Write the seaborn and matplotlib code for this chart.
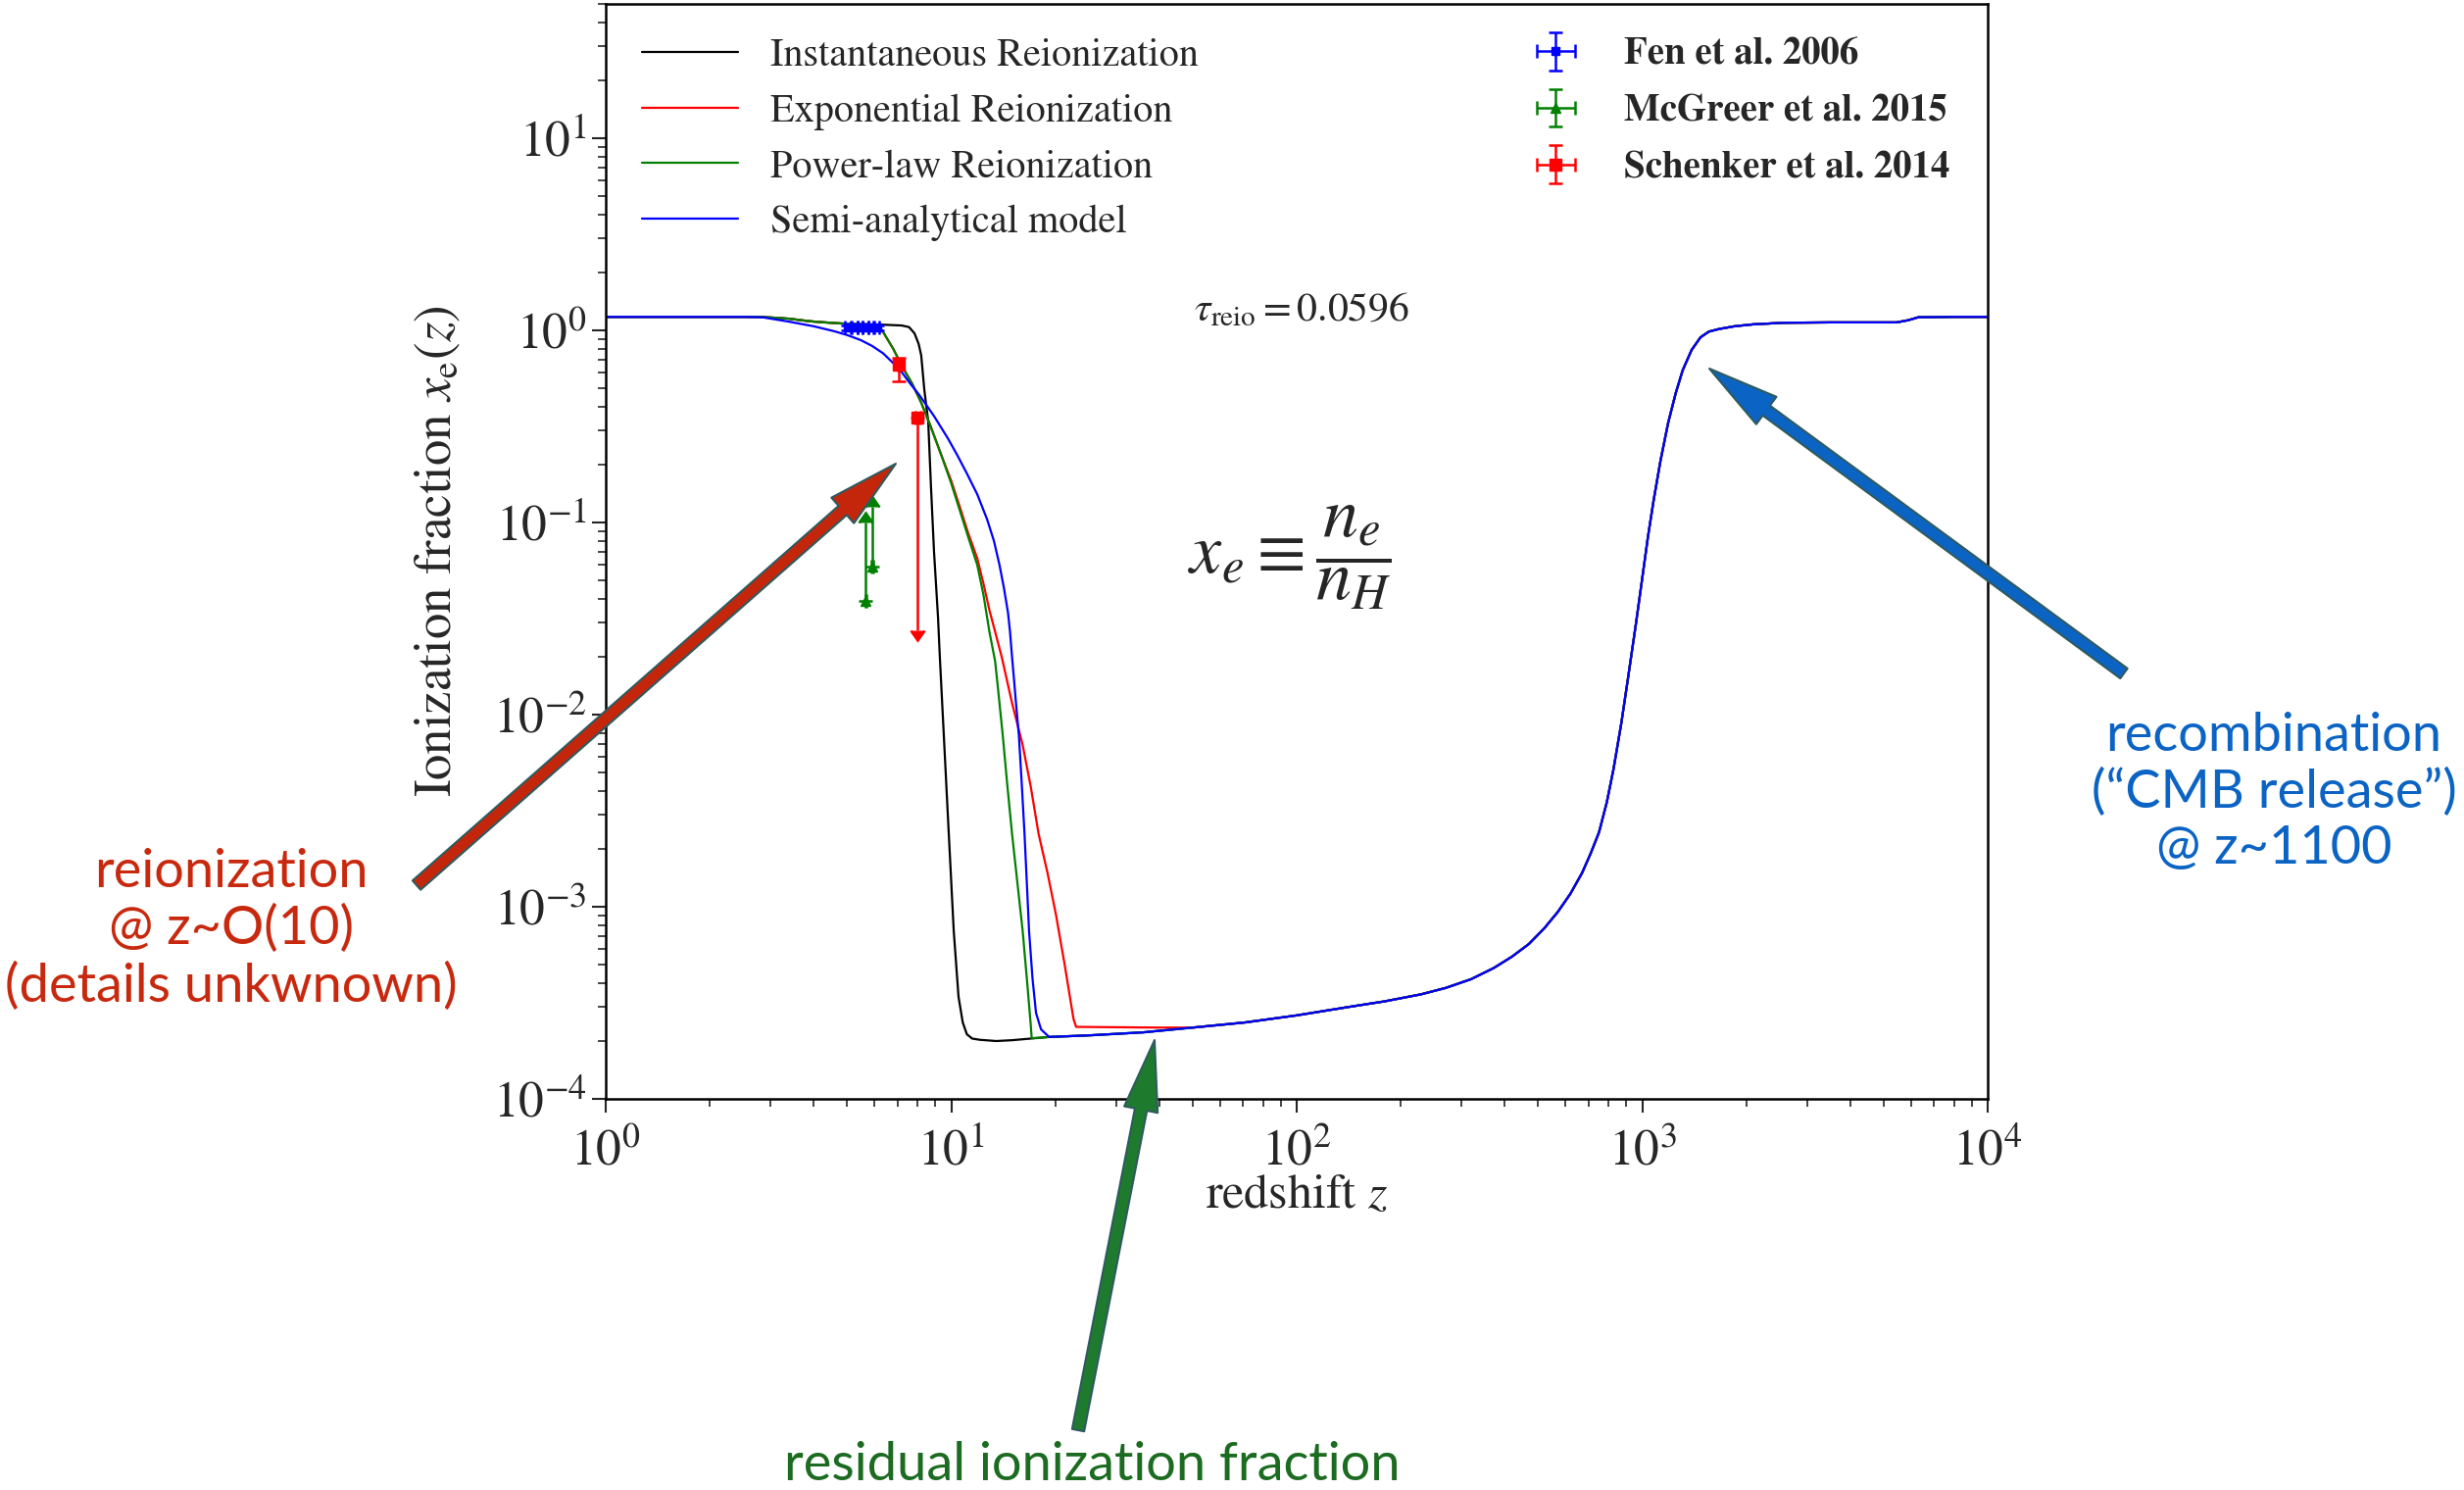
import numpy as np
import pandas as pd
import matplotlib
matplotlib.use("Agg")
import matplotlib.pyplot as plt
import seaborn as sns
from matplotlib.lines import Line2D
from matplotlib.patches import FancyArrowPatch
from matplotlib.transforms import IdentityTransform

# ---------------- data ----------------
# shared residual + recombination tail (all models)
z_residual = [19.2, 25, 36, 50, 71, 100, 140, 180, 229, 270, 320, 372, 420, 470,
              520, 570, 620, 670, 710, 750, 790, 826, 870, 910, 960, 1003, 1040,
              1079, 1130, 1189, 1250, 1310, 1390, 1475, 1560, 1668, 1850, 2100,
              2570, 3500, 5450, 5900, 6300, 8000, 10000]
xe_residual = [2.10e-4, 2.14e-4, 2.22e-4, 2.35e-4, 2.50e-4, 2.72e-4, 3.0e-4, 3.22e-4,
               3.5e-4, 3.78e-4, 4.2e-4, 4.8e-4, 5.5e-4, 6.4e-4, 7.7e-4, 9.4e-4,
               1.17e-3, 1.5e-3, 1.9e-3, 2.44e-3, 3.5e-3, 5.2e-3, 9.0e-3, 0.0155,
               0.030, 0.053, 0.085, 0.13, 0.21, 0.33, 0.47, 0.62, 0.79, 0.92,
               0.985, 1.016, 1.05, 1.075, 1.095, 1.10, 1.10, 1.13, 1.17, 1.175, 1.175]

z_inst = [1, 2.5, 2.84, 3.1, 3.39, 3.8, 4.3, 4.8, 5.5, 6.36, 7.19, 7.55, 7.83, 8.05,
          8.19, 8.36, 8.58, 8.74, 8.92, 9.16, 9.27, 9.52, 9.84, 10.17, 10.5, 10.8,
          11.1, 11.5, 12.1, 13.5, 15.0, 17.0]
xe_inst = [1.175, 1.175, 1.172, 1.163, 1.15, 1.12, 1.10, 1.086, 1.075, 1.07, 1.06,
           1.04, 0.965, 0.85, 0.74, 0.49, 0.336, 0.153, 0.070, 0.032, 0.020, 7.8e-3,
           2.4e-3, 7.5e-4, 3.4e-4, 2.5e-4, 2.17e-4, 2.06e-4, 2.03e-4, 2.0e-4,
           2.02e-4, 2.06e-4]

z_exp = [1, 2.84, 3.39, 4.0, 4.8, 5.5, 6.0, 6.31, 6.8, 7.19, 7.7, 8.19, 8.7, 9.33,
         10.0, 10.6, 11.2, 11.9, 12.4, 12.9, 13.4, 14.0, 15.0, 16.1, 17.0, 17.9,
         19.0, 20.1, 21.3, 22.6, 23.0, 30.0, 40.0]
xe_exp = [1.175, 1.175, 1.15, 1.11, 1.086, 1.078, 1.07, 1.0, 0.80, 0.655, 0.53,
          0.42, 0.32, 0.228, 0.165, 0.12, 0.088, 0.065, 0.048, 0.035, 0.027, 0.020,
          0.0115, 6.95e-3, 4.2e-3, 2.4e-3, 1.5e-3, 9.1e-4, 5.0e-4, 2.6e-4, 2.37e-4,
          2.36e-4, 2.35e-4]

z_pow = [1, 2.84, 3.39, 4.0, 4.8, 5.5, 6.0, 6.31, 6.8, 7.19, 7.7, 8.19, 8.7, 9.33,
         10.0, 10.6, 11.2, 11.9, 12.4, 12.9, 13.4, 13.7, 14.1, 14.5, 15.0, 15.5,
         16.1, 16.6, 17.0, 17.1, 18.0]
xe_pow = [1.175, 1.175, 1.15, 1.11, 1.086, 1.078, 1.07, 1.0, 0.80, 0.655, 0.53,
          0.42, 0.32, 0.228, 0.16, 0.115, 0.084, 0.060, 0.042, 0.027, 0.019, 0.013,
          7.8e-3, 4.5e-3, 2.4e-3, 1.4e-3, 7.5e-4, 4.0e-4, 2.4e-4, 2.07e-4, 2.08e-4]

z_semi = [1, 2.5, 2.84, 3.39, 4.0, 4.58, 5.0, 5.47, 5.9, 6.35, 7.1, 7.6, 8.09, 8.9,
          9.77, 10.4, 11.1, 11.9, 12.7, 13.3, 13.8, 14.2, 14.6, 14.8, 15.0, 15.2,
          15.4, 15.7, 16.0, 16.3, 16.6, 16.8, 17.2, 17.6, 18.2, 19.2]
xe_semi = [1.175, 1.175, 1.17, 1.11, 1.05, 0.99, 0.945, 0.89, 0.83, 0.76, 0.625,
           0.53, 0.46, 0.36, 0.275, 0.225, 0.18, 0.14, 0.104, 0.08, 0.06, 0.046,
           0.034, 0.027, 0.020, 0.0152, 0.0115, 7.8e-3, 4.4e-3, 2.4e-3, 1.2e-3,
           7.5e-4, 4.2e-4, 2.8e-4, 2.3e-4, 2.1e-4]

model_names = ["Instantaneous Reionization", "Exponential Reionization",
               "Power-law Reionization", "Semi-analytical model"]
model_colors = ["black", "red", "green", "blue"]

# observational points
fan_z = [5.03, 5.25, 5.45, 5.65, 5.85, 6.10]
fan_xe = [1.035, 1.035, 1.035, 1.035, 1.035, 1.035]
fan_zerr = [0.1, 0.1, 0.1, 0.1, 0.1, 0.1]
fan_xeerr = [0.03, 0.03, 0.03, 0.03, 0.03, 0.03]

mcg_z = [5.65, 5.91]
mcg_xe = [0.039, 0.059]
mcg_up = [0.061, 0.061]

sch_z = [7.05, 8.0]
sch_xe = [0.66, 0.35]
sch_lo = [0.12, 0.3225]
sch_hi = [0.06, 0.0]
sch_uplim = [False, True]

obs_labels = ["Fen et al. 2006", "McGreer et al. 2015", "Schenker et al. 2014"]

# ---------------- build the table ----------------
def with_tail(zm, xm):
    zr = np.array(z_residual)
    xr = np.array(xe_residual)
    keep = zr > zm[-1]
    return list(zm) + list(zr[keep]), list(xm) + list(xr[keep])

frames = []
for name, zm, xm in zip(model_names, [z_inst, z_exp, z_pow, z_semi],
                        [xe_inst, xe_exp, xe_pow, xe_semi]):
    zz, xx = with_tail(zm, xm)
    frames.append(pd.DataFrame({"z": zz, "xe": xx, "model": name}))
df = pd.concat(frames, ignore_index=True)

# ---------------- style ----------------
sns.set_theme(style="ticks")
plt.rcParams["font.family"] = ["STIXGeneral", "DejaVu Serif"]
plt.rcParams["mathtext.fontset"] = "stix"
plt.rcParams["axes.linewidth"] = 1.8

W, H = 2514, 1520
fig = plt.figure(figsize=(W / 100, H / 100), dpi=100)
fig.patch.set_facecolor("white")
ax = fig.add_axes([618 / W, 1 - 1121 / H, 1410 / W, 1117 / H])
ax.set_facecolor("white")

sns.lineplot(data=df, x="z", y="xe", hue="model", hue_order=model_names,
             palette=dict(zip(model_names, model_colors)), estimator=None,
             sort=False, linewidth=1.6, legend=False, ax=ax)

ax.set_xscale("log")
ax.set_yscale("log")
ax.set_xlim(1, 1e4)
ax.set_ylim(1e-4, 50)

eb_kw = dict(capsize=5, elinewidth=1.8, capthick=1.8)
eb_fan = ax.errorbar(fan_z, fan_xe, xerr=fan_zerr, yerr=fan_xeerr, fmt="s", ms=6,
                     color="blue", zorder=5, **eb_kw)
eb_mcg = ax.errorbar(mcg_z, mcg_xe, xerr=[0.02, 0.02], yerr=mcg_up, lolims=True,
                     fmt="^", ms=7, color="green", zorder=5, **eb_kw)
eb_sch = ax.errorbar(sch_z, sch_xe, xerr=[0.06, 0.12], yerr=[sch_lo, sch_hi],
                     uplims=sch_uplim, fmt="s", ms=8, color="red", zorder=5, **eb_kw)

ax.set_xlabel("redshift $z$", fontsize=36, labelpad=-1)
ax.set_ylabel(r"Ionization fraction $x_{\rm e}(z)$", fontsize=38, labelpad=22)
ax.tick_params(axis="both", which="major", labelsize=37, length=10, width=1.5,
               direction="out", top=False, right=False)
ax.tick_params(axis="x", which="major", pad=12)
ax.tick_params(axis="y", which="major", pad=4)
ax.tick_params(axis="both", which="minor", length=6, width=1.2, direction="out",
               top=False, right=False)
for s in ax.spines.values():
    s.set_visible(True)
    s.set_color("black")
    s.set_linewidth(1.8)

# legends
line_handles = [Line2D([], [], color=c, lw=1.6) for c in model_colors]
leg1 = ax.legend(line_handles, model_names, loc="upper left",
                 bbox_to_anchor=(0.026, 0.969), frameon=False, fontsize=29,
                 handlelength=2.45, handletextpad=0.8, labelspacing=0.48,
                 borderpad=0, borderaxespad=0)
ax.add_artist(leg1)
leg2 = ax.legend([eb_fan, eb_mcg, eb_sch], obs_labels, loc="upper left",
                 bbox_to_anchor=(0.671, 0.969), frameon=False,
                 prop={"size": 28, "weight": "bold"}, handlelength=1.2,
                 handletextpad=1.2, labelspacing=0.58, borderpad=0, borderaxespad=0)

ax.text(0.4255, 0.72, r"$\tau_{\rm reio} = 0.0596$", transform=ax.transAxes,
        fontsize=30, ha="left", va="center")
ax.text(0.421, 0.494, r"$x_e \equiv \dfrac{n_e}{n_H}$", transform=ax.transAxes,
        fontsize=52, ha="left", va="center")

# annotations outside
red_c, blue_c, green_c = "#C8290E", "#0B63C4", "#1B6B20"
fig.text(236 / W, 1 - 948 / H, "reionization\n@ z~O(10)\n(details unkwnown)",
         color=red_c, fontsize=39, family="Lato", ha="center", va="center",
         linespacing=1.2)
fig.text(2320 / W, 1 - 808 / H, "recombination\n(\u201cCMB release\u201d)\n@ z~1100",
         color=blue_c, fontsize=39, family="Lato", ha="center", va="center",
         linespacing=1.2)
fig.text(1114 / W, 1 - 1494 / H, "residual ionization fraction", color=green_c,
         fontsize=39, family="Lato", ha="center", va="center")

edge = "#2E5A5E"
for (x0, y0), (x1, y1), fc in [((425, 903), (914, 473), "#C4260C"),
                               ((2167, 687), (1744, 376), "#0B63C4"),
                               ((1100, 1459), (1178, 1061), "#1E7B2E")]:
    p = FancyArrowPatch((x0, H - y0), (x1, H - y1), transform=IdentityTransform(),
                        arrowstyle="simple,head_length=52,head_width=25,tail_width=9",
                        mutation_scale=1, fc=fc, ec=edge, lw=1.5,
                        shrinkA=0, shrinkB=0, zorder=10)
    fig.add_artist(p)

fig.savefig("out.png", dpi=100, facecolor="white")
